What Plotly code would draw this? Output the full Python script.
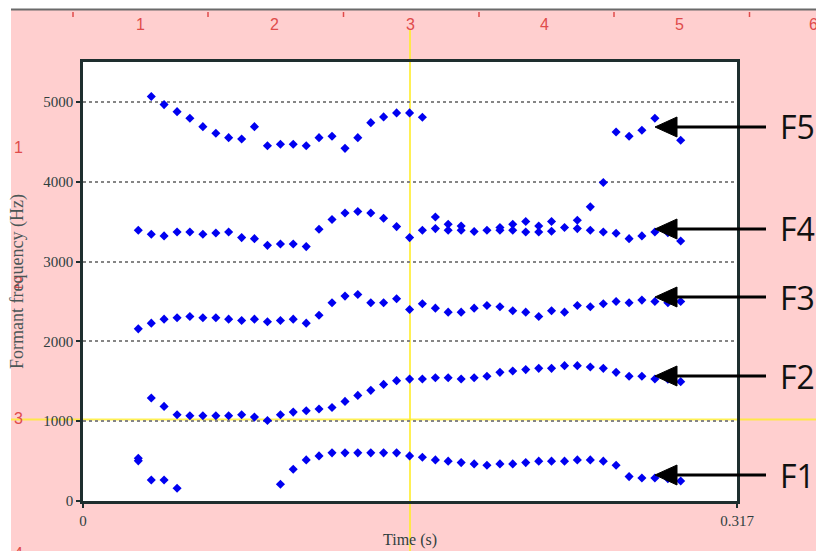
import plotly.graph_objects as go

# ---- data ----
times = [0.0268, 0.0331, 0.0393, 0.0456, 0.0518, 0.0581, 0.0644, 0.0706, 0.0769, 0.0831,
         0.0894, 0.0957, 0.1019, 0.1082, 0.1144, 0.1207, 0.1270, 0.1332, 0.1395, 0.1457,
         0.1520, 0.1583, 0.1645, 0.1708, 0.1770, 0.1833, 0.1896, 0.1958, 0.2021, 0.2083,
         0.2146, 0.2209, 0.2271, 0.2334, 0.2396, 0.2459, 0.2522, 0.2584, 0.2647, 0.2709,
         0.2772, 0.2835, 0.2897]

F1 = [503, 264, 264, 160, None, None, None, None, None, None,
      None, 210, 398, 515, 565, 603, 603, 603, 603, 603,
      603, 565, 549, 515, 499, 481, 465, 448, 465, 465,
      481, 499, 499, 499, 515, 515, 499, 448, 306, 289,
      289, 280, 251]

F2 = [536, 1290, 1185, 1080, 1068, 1068, 1068, 1068, 1080, 1051,
      1009, 1080, 1114, 1131, 1152, 1172, 1248, 1323, 1386, 1461,
      1508, 1527, 1529, 1545, 1545, 1529, 1545, 1562, 1612, 1629,
      1646, 1662, 1662, 1696, 1696, 1679, 1662, 1612, 1562, 1562,
      1529, 1525, 1495]

F3 = [2157, 2228, 2278, 2295, 2312, 2295, 2295, 2278, 2261, 2278,
      2245, 2261, 2278, 2228, 2328, 2483, 2567, 2588, 2483, 2483,
      2534, 2399, 2471, 2416, 2366, 2366, 2416, 2450, 2433, 2383,
      2366, 2312, 2383, 2366, 2450, 2433, 2471, 2500, 2483, 2517,
      2500, 2483, 2500]

F4 = [3392, 3342, 3321, 3371, 3371, 3342, 3358, 3371, 3300, 3287,
      3203, 3220, 3220, 3187, 3405, 3526, 3609, 3627, 3609, 3543,
      3438, 3300, 3392, 3413, 3392, 3392, 3376, 3392, 3392, 3392,
      3371, 3371, 3380, 3426, 3413, 3392, 3371, 3354, 3287, 3321,
      3371, 3360, 3258]

F5 = [None, 5067, 4966, 4878, 4795, 4690, 4607, 4552, 4535, 4690,
      4451, 4469, 4469, 4451, 4552, 4569, 4418, 4552, 4740, 4812,
      4862, 4862, 4808, 3559, 3467, 3446, None, None, 3426, 3467,
      3501, 3446, 3501, None, 3518, 3685, 3990, 4623, 4569, 4644,
      4795, 4680, 4519]

formant_labels = ["F5", "F4", "F3", "F2", "F1"]
label_rows_px = [127, 229, 297, 376, 475]   # vertical pixel rows of the arrow labels

y_ticks = [0, 1000, 2000, 3000, 4000, 5000]
x_ticks = [0, 0.317]
x_ticktext = ["0", "0.317"]

ruler_top = ["1", "2", "3", "4", "5", "6"]
ruler_left = ["1", "2", "3", "4"]

# ---- layout geometry (pixels) ----
W, H = 816, 551
L, R, T, B = 83, 737, 62, 501


def px(x):
    return (x - L) / (R - L)


def py(y):
    return (B - y) / (B - T)


PINK = "#FFCFCF"
RED = "#E04B4B"
FRAME = "#1E2E2E"
TXT = "#2E3E3E"
YEL = "rgba(255,236,40,0.8)"

fig = go.Figure()
for series in [F1, F2, F3, F4, F5]:
    fig.add_trace(go.Scatter(
        x=times, y=series, mode="markers",
        marker=dict(symbol="diamond", size=7, color="#0000F0",
                    line=dict(width=0)),
        showlegend=False, hoverinfo="skip"))

shapes = []
# white strips + grey top line (window chrome)
shapes.append(dict(type="rect", xref="paper", yref="paper", layer="below",
                   x0=px(0), x1=px(W), y0=py(0), y1=py(9), fillcolor="white", line=dict(width=0)))
shapes.append(dict(type="rect", xref="paper", yref="paper", layer="below",
                   x0=px(0), x1=px(11), y0=py(0), y1=py(H), fillcolor="white", line=dict(width=0)))
shapes.append(dict(type="line", xref="paper", yref="paper", layer="below",
                   x0=px(11), x1=px(W), y0=py(9.5), y1=py(9.5), line=dict(color="#6A6A6A", width=2)))
# yellow cursor lines
shapes.append(dict(type="line", xref="paper", yref="paper", layer="below",
                   x0=px(410), x1=px(410), y0=py(30), y1=py(H), line=dict(color=YEL, width=2)))
shapes.append(dict(type="line", xref="paper", yref="paper", layer="below",
                   x0=px(11), x1=px(W), y0=py(419.5), y1=py(419.5), line=dict(color=YEL, width=2)))
# red ruler tick marks on top
for xt in [73, 208, 343.5, 479, 614, 749.5]:
    shapes.append(dict(type="line", xref="paper", yref="paper", layer="below",
                       x0=px(xt), x1=px(xt), y0=py(12), y1=py(17), line=dict(color=RED, width=1.5)))

annotations = []
# arrows with labels
for lab, yr in zip(formant_labels, label_rows_px):
    shapes.append(dict(type="line", xref="paper", yref="paper",
                       x0=px(672), x1=px(766), y0=py(yr), y1=py(yr),
                       line=dict(color="black", width=3)))
    path = "M {:.5f},{:.5f} L {:.5f},{:.5f} L {:.5f},{:.5f} Z".format(
        px(655), py(yr), px(677), py(yr - 10), px(677), py(yr + 10))
    shapes.append(dict(type="path", xref="paper", yref="paper", path=path,
                       fillcolor="black", line=dict(color="black", width=1)))
    annotations.append(dict(text=lab, xref="paper", yref="paper", x=px(778), y=py(yr),
                            xanchor="left", yanchor="middle", showarrow=False,
                            font=dict(family="Open Sans, Noto Sans, sans-serif", size=32, color="#111111")))

# top ruler numbers
for lab, xr in zip(ruler_top, [140, 274, 410, 544.5, 679, 813]):
    annotations.append(dict(text=lab, xref="paper", yref="paper", x=px(xr), y=py(24),
                            xanchor="center", yanchor="middle", showarrow=False,
                            font=dict(family="Liberation Sans Narrow, Liberation Sans, sans-serif",
                                      size=16, color=RED)))
# left ruler numbers
for lab, yr in zip(ruler_left, [147, 282, 418, 553]):
    annotations.append(dict(text=lab, xref="paper", yref="paper", x=px(18), y=py(yr),
                            xanchor="center", yanchor="middle", showarrow=False,
                            font=dict(family="Liberation Sans, sans-serif", size=16, color=RED)))

# axis titles
annotations.append(dict(text="Time (s)", xref="paper", yref="paper", x=px(410), y=py(540),
                        xanchor="center", yanchor="middle", showarrow=False,
                        font=dict(family="Liberation Serif, serif", size=16, color=TXT)))
annotations.append(dict(text="Formant frequency (Hz)", xref="paper", yref="paper", x=px(17), y=py(282),
                        xanchor="center", yanchor="middle", showarrow=False, textangle=-90,
                        font=dict(family="Liberation Serif, serif", size=18, color="#4A5656")))

fig.update_layout(
    width=W, height=H, autosize=False,
    margin=dict(l=L, r=W - R, t=T, b=H - B, pad=0),
    paper_bgcolor=PINK, plot_bgcolor="white",
    shapes=shapes, annotations=annotations,
    xaxis=dict(range=[0, 0.317], tickvals=x_ticks, ticktext=x_ticktext,
               showgrid=False, zeroline=False, showline=True, mirror=True,
               linecolor=FRAME, linewidth=2.5, ticks="outside", ticklen=4,
               tickcolor=FRAME, tickwidth=1.5,
               tickfont=dict(family="Liberation Serif, serif", size=15, color=TXT)),
    yaxis=dict(range=[0, 5500], tickvals=y_ticks,
               showgrid=True, gridcolor="#858585", gridwidth=1.5, griddash="3px,3px",
               zeroline=False, showline=True, mirror=True,
               linecolor=FRAME, linewidth=2.5, ticks="outside", ticklen=4,
               tickcolor=FRAME, tickwidth=1.5,
               tickfont=dict(family="Liberation Serif, serif", size=15, color=TXT)),
)

fig.write_html("out.html")
